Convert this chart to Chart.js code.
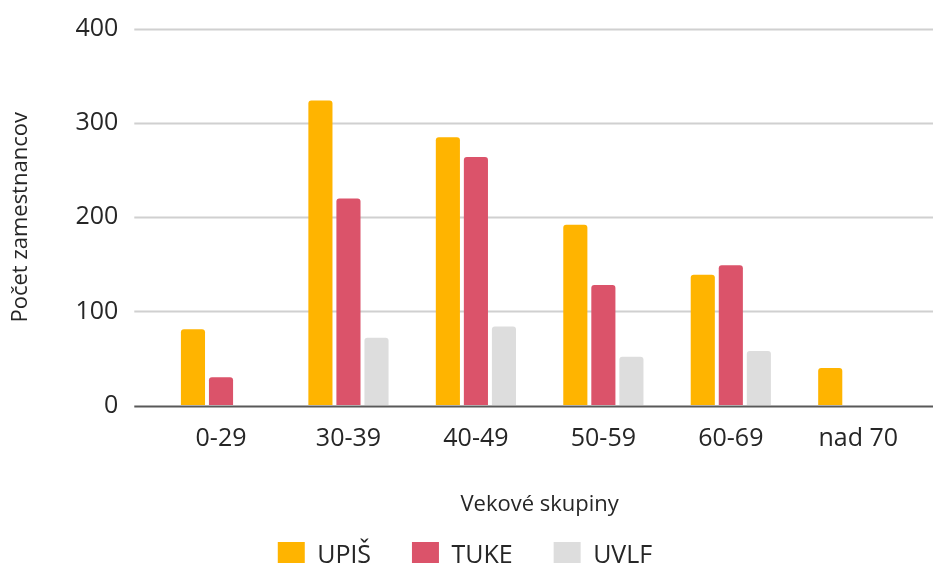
<!DOCTYPE html>
<html>
<head>
<meta charset="utf-8">
<script src="https://cdn.jsdelivr.net/npm/chart.js@4"></script>
<style>
  html, body { margin: 0; padding: 0; background: #fff; overflow: hidden; }
  #wrap { width: 933px; height: 579px; }
</style>
</head>
<body>
<div id="wrap"><canvas id="c" width="933" height="579"></canvas></div>
<script>
// Age groups and headcounts per university
const ageGroups = ['0-29', '30-39', '40-49', '50-59', '60-69', 'nad 70'];
const upjs = [81, 324, 285, 192, 139, 40];
const tuke = [30, 220, 264, 128, 149, 0];
const uvlf = [0, 72, 84, 52, 58, 0];
const yTicks = [0, 100, 200, 300, 400];

const FONT = "'Open Sans', 'Noto Sans', sans-serif";
const TEXT = '#262626';

// Horizontal value lines, running across the full plot width
const gridPlugin = {
  id: 'valueLines',
  beforeDatasetsDraw(chart) {
    const { ctx } = chart;
    const y = chart.scales.y;
    const x0 = chart.chartArea.left - 23;
    const x1 = chart.width;
    ctx.save();
    ctx.strokeStyle = '#d0d0d0';
    ctx.lineWidth = 2;
    y.ticks.forEach(t => {
      if (t.value === 0) return;
      const py = Math.round(y.getPixelForValue(t.value)) + 0.5;
      ctx.beginPath();
      ctx.moveTo(x0, py);
      ctx.lineTo(x1, py);
      ctx.stroke();
    });
    ctx.restore();
  },
  afterDatasetsDraw(chart) {
    const { ctx } = chart;
    const y = chart.scales.y;
    const py = Math.round(y.getPixelForValue(0)) + 0.5;
    ctx.save();
    ctx.strokeStyle = '#595959';
    ctx.lineWidth = 2;
    ctx.beginPath();
    ctx.moveTo(chart.chartArea.left - 23, py);
    ctx.lineTo(chart.width, py);
    ctx.stroke();
    ctx.restore();
  }
};

const barStyle = { borderRadius: 3, borderSkipped: 'start', barPercentage: 0.86, categoryPercentage: 0.66 };

new Chart(document.getElementById('c'), {
  type: 'bar',
  data: {
    labels: ageGroups,
    datasets: [
      { label: 'UPJŠ', data: upjs, backgroundColor: '#ffb400', ...barStyle },
      { label: 'TUKE', data: tuke, backgroundColor: '#db536a', ...barStyle },
      { label: 'UVLF', data: uvlf, backgroundColor: '#dddddd', ...barStyle }
    ]
  },
  plugins: [gridPlugin],
  options: {
    responsive: false,
    animation: false,
    layout: { padding: { top: 29, left: 8, right: 11, bottom: 0 } },
    plugins: {
      tooltip: { enabled: false },
      legend: {
        position: 'bottom',
        labels: {
          boxWidth: 27, boxHeight: 27, padding: 41,
          color: TEXT,
          font: { family: FONT, size: 25 }
        }
      }
    },
    scales: {
      x: {
        grid: { display: false, drawTicks: false },
        border: { display: false },
        ticks: { color: TEXT, font: { family: FONT, size: 25 }, padding: 18 },
        title: {
          display: true, text: 'Vekové skupiny', color: TEXT,
          font: { family: FONT, size: 22 }, padding: { top: 20, bottom: -17 }
        }
      },
      y: {
        min: 0, max: 400,
        afterBuildTicks(scale) { scale.ticks = yTicks.map(v => ({ value: v })); },
        // invisible tick marks keep the labels clear of the plot
        grid: { display: true, drawOnChartArea: false, drawTicks: true, tickLength: 34, tickColor: 'rgba(0,0,0,0)', color: 'rgba(0,0,0,0)' },
        border: { display: false },
        ticks: { color: TEXT, font: { family: FONT, size: 25 }, padding: 5 },
        title: {
          display: true, text: 'Počet zamestnancov', color: TEXT,
          font: { family: FONT, size: 22 }, padding: { top: 0, bottom: 36 }
        }
      }
    }
  }
});
</script>
</body>
</html>
